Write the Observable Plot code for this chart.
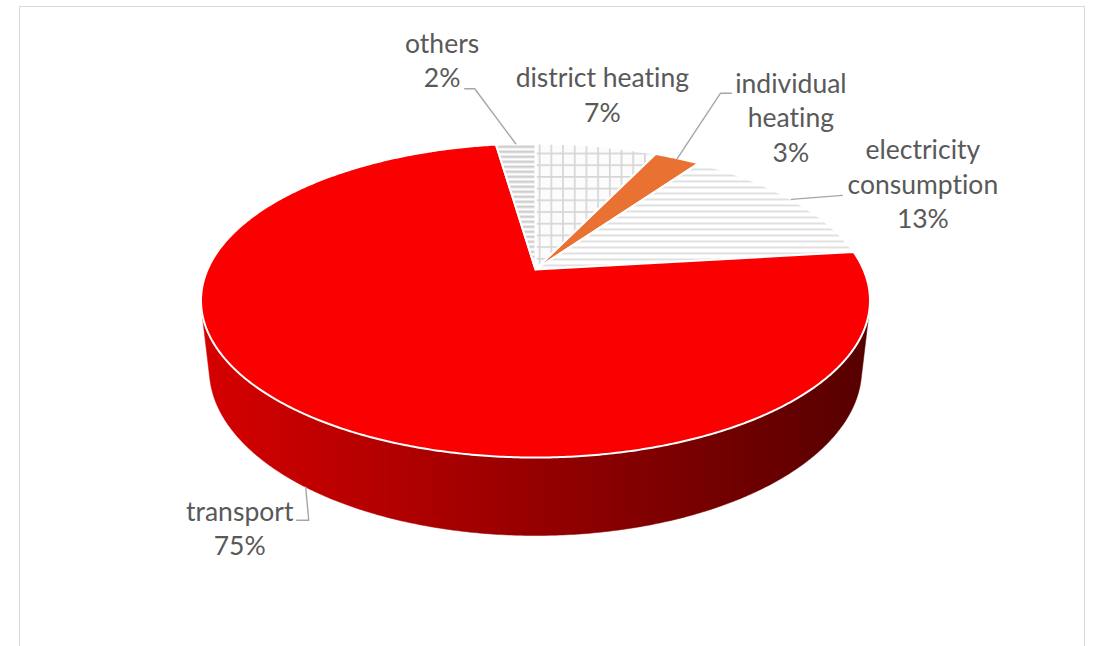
<!DOCTYPE html>
<html>
<head>
<meta charset="utf-8">
<script src="https://cdn.jsdelivr.net/npm/d3@7"></script>
<script src="https://cdn.jsdelivr.net/npm/@observablehq/plot@0.6"></script>
<style>
  html, body { margin: 0; padding: 0; background: #ffffff; }
  #wrap { position: relative; width: 1096px; height: 646px; overflow: hidden; }
  #wrap svg { position: absolute; left: 0; top: 0; }
  #wrap svg text, #wrap svg tspan { font-variant-ligatures: none; font-feature-settings: "liga" 0, "clig" 0; }
  #frame { position: absolute; left: 19px; top: 6px; width: 1066px; height: 720px;
           border: 1px solid #D9D9D9; box-sizing: border-box; pointer-events: none; }
</style>
</head>
<body>
<div id="wrap"><div id="frame"></div></div>
<script>
// ---------- data ----------
const categories = ["district heating", "individual heating", "electricity consumption", "transport", "others"];
const shares     = [7.1, 2.7, 13.3, 74.6, 2.3];          // percent of total
const shareLabels = ["7%", "3%", "13%", "75%", "2%"];

// ---------- styles ----------
const sliceFills = ["url(#pGrid)", "#E97132", "url(#pLight)", "#FA0000", "url(#pDark)"];
const textColor = "#595959";
const leaderColor = "#A6A6A6";
const fontFamily = "Lato, 'Open Sans', sans-serif";
const fontSize = 26.5;

// ---------- layout ----------
const W = 1096, H = 646;
const cx = 535, cy = 269, M = 1474.6;           // pixel position of pie centre and projection scale
const elev = 27.4 * Math.PI / 180, D = 4.497, depth = 0.2372;
// label / leader offsets in pixels relative to the slice's rim anchor
const labelLayout = [
  {rim: "top",    label: [6, -24],     leader: null},
  {rim: "top",    label: [113.5, 3.7], leader: [[43, -65], [54, -65]]},
  {rim: "top",    label: [131.5, 29],  leader: [[51, -4]]},
  {rim: "bottom", label: [-66, 68],    leader: [[3, 33], [-9, 33]]},
  {rim: "top",    label: [-73.6, -56.5], leader: [[-41, -55], [-51, -55]]}
];

// perspective projection of a point on the disc (theta clockwise from 12 o'clock)
function proj(theta, r, z) {
  const X = r * Math.sin(theta), Y = r * Math.cos(theta);
  const den = D + Y * Math.cos(elev) - z * Math.sin(elev);
  return {x: X / den, y: (Y * Math.sin(elev) + z * Math.cos(elev)) / den};
}
function arcPts(a0, a1, z) {
  const n = Math.max(2, Math.ceil((a1 - a0) / (Math.PI / 360)));
  return d3.range(n + 1).map(j => proj(a0 + (a1 - a0) * j / n, 1, z));
}

const total = d3.sum(shares);
const cum = d3.cumsum(shares);
const slices = shares.map((v, i) => ({
  name: categories[i],
  a0: 2 * Math.PI * (cum[i] - v) / total,
  a1: 2 * Math.PI * cum[i] / total
}));

// visible range of the cylinder wall
const visLo = Math.acos(-1 / (D * Math.cos(elev)));
const visHi = 2 * Math.PI - visLo;

const marks = [];
// side walls
slices.forEach((s, i) => {
  const lo = Math.max(s.a0, visLo), hi = Math.min(s.a1, visHi);
  if (lo < hi) {
    const pts = arcPts(lo, hi, 0).concat(arcPts(lo, hi, -depth).reverse());
    pts.push(pts[0]);
    const sideFill = i === 3 ? "url(#sideGrad)" : "#999";
    marks.push(Plot.line(pts, {x: "x", y: "y", fill: sideFill, stroke: sideFill, strokeWidth: 0.5, curve: "linear"}));
  }
});
// top faces
slices.forEach((s, i) => {
  const c = proj(0, 0, 0);
  const pts = [c, ...arcPts(s.a0, s.a1, 0), c];
  marks.push(Plot.line(pts, {x: "x", y: "y", fill: sliceFills[i], stroke: "white", strokeWidth: 2, strokeLinejoin: "round", curve: "linear"}));
});
// labels and leaders
const labelData = [];
slices.forEach((s, i) => {
  const mid = (s.a0 + s.a1) / 2;
  const L = labelLayout[i];
  const anchor = proj(mid, 1, L.rim === "top" ? 0 : -depth);
  if (L.leader) {
    const pts = [anchor, ...L.leader.map(([dx, dy]) => ({x: anchor.x + dx / M, y: anchor.y - dy / M}))];
    marks.push(Plot.line(pts, {x: "x", y: "y", stroke: leaderColor, strokeWidth: 1.4, curve: "linear"}));
  }
  labelData.push({
    x: anchor.x + L.label[0] / M,
    y: anchor.y - L.label[1] / M,
    text: s.name.split(" ").join("\n") + "\n" + shareLabels[i]
  });
});
// "district heating" is printed on one line in the reference
labelData[0].text = categories[0] + "\n" + shareLabels[0];

marks.push(Plot.text(labelData, {
  x: "x", y: "y", text: "text",
  textAnchor: "middle", lineAnchor: "bottom", lineHeight: 1.31,
  fill: textColor, fontSize, fontFamily
}));

const chart = Plot.plot({
  width: W, height: H,
  margin: 0,
  x: {domain: [-cx / M, (W - cx) / M], range: [0, W], axis: null},
  y: {domain: [(cy - H) / M, cy / M], range: [H, 0], axis: null},
  style: {background: "transparent", fontFamily},
  marks
});

// gradient and pattern definitions
const defs = d3.select(chart).insert("defs", ":first-child");
const g = defs.append("linearGradient").attr("id", "sideGrad").attr("x1", 0).attr("x2", 1).attr("y1", 0).attr("y2", 0);
g.append("stop").attr("offset", 0).attr("stop-color", "#D60000");
g.append("stop").attr("offset", 0.5).attr("stop-color", "#960000");
g.append("stop").attr("offset", 1).attr("stop-color", "#560000");

const pg = defs.append("pattern").attr("id", "pGrid").attr("patternUnits", "userSpaceOnUse").attr("width", 11.7).attr("height", 11.7);
pg.append("rect").attr("width", 11.7).attr("height", 11.7).attr("fill", "#FCFCFC");
pg.append("rect").attr("width", 1.7).attr("height", 11.7).attr("fill", "#D6D6D6");
pg.append("rect").attr("width", 11.7).attr("height", 1.7).attr("fill", "#D6D6D6");

const pl = defs.append("pattern").attr("id", "pLight").attr("patternUnits", "userSpaceOnUse").attr("width", 8).attr("height", 6);
pl.append("rect").attr("width", 8).attr("height", 6).attr("fill", "#FFFFFF");
pl.append("rect").attr("width", 8).attr("height", 1.8).attr("fill", "#DDDDDD");

const pd = defs.append("pattern").attr("id", "pDark").attr("patternUnits", "userSpaceOnUse").attr("width", 8).attr("height", 5);
pd.append("rect").attr("width", 8).attr("height", 5).attr("fill", "#FFFFFF");
pd.append("rect").attr("width", 8).attr("height", 2.6).attr("fill", "#CFCFCF");

document.getElementById("wrap").insertBefore(chart, document.getElementById("frame"));
</script>
</body>
</html>
